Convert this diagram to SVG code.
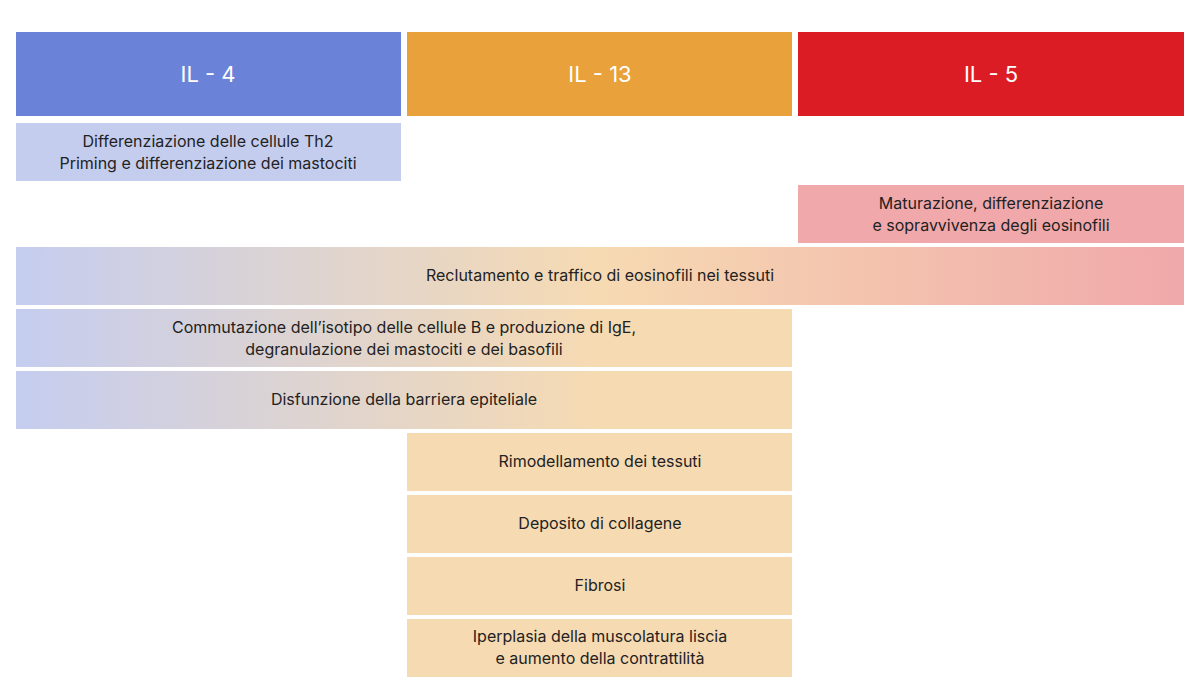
<svg xmlns="http://www.w3.org/2000/svg" width="1200" height="698" viewBox="0 0 1200 698">
<style>
.h{font-family:Inter,"Noto Sans",sans-serif;font-size:22px;fill:#fff;text-anchor:middle}
.t{font-family:Inter,"Noto Sans",sans-serif;font-size:16px;fill:#222;text-anchor:middle}
</style>
<defs>
<linearGradient id="g3" x1="0" x2="1" y1="0" y2="0"><stop offset="0" stop-color="#c5cdef"/><stop offset="0.5" stop-color="#f6dab2"/><stop offset="1" stop-color="#f0a8aa"/></linearGradient>
<linearGradient id="g2" x1="0" x2="1" y1="0" y2="0"><stop offset="0" stop-color="#c5cdef"/><stop offset="0.75" stop-color="#f6dab2"/><stop offset="1" stop-color="#f6dab2"/></linearGradient>
</defs>
<rect width="1200" height="698" fill="#fff"/>
<g id="il4"><rect x="16" y="32" width="385" height="84" fill="#6a82d8"/><text class="h" x="208" y="82">IL - 4</text></g>
<g id="il13"><rect x="407" y="32" width="385" height="84" fill="#e9a13c"/><text class="h" x="600" y="82">IL - 13</text></g>
<g id="il5"><rect x="798" y="32" width="386" height="84" fill="#dc1c25"/><text class="h" x="991" y="82">IL - 5</text></g>
<g id="r1"><rect x="16" y="123" width="385" height="58" fill="#c5cdef"/><text class="t" x="208" y="147">Differenziazione delle cellule Th2</text><text class="t" x="208" y="169">Priming e differenziazione dei mastociti</text></g>
<g id="r2"><rect x="798" y="185" width="386" height="58" fill="#f0a8aa"/><text class="t" x="991" y="209">Maturazione, differenziazione</text><text class="t" x="991" y="231">e sopravvivenza degli eosinofili</text></g>
<g id="r3"><rect x="16" y="247" width="1168" height="58" fill="url(#g3)"/><text class="t" x="600" y="281">Reclutamento e traffico di eosinofili nei tessuti</text></g>
<g id="r4"><rect x="16" y="309" width="776" height="58" fill="url(#g2)"/><text class="t" x="404" y="333">Commutazione dell’isotipo delle cellule B e produzione di IgE,</text><text class="t" x="404" y="355">degranulazione dei mastociti e dei basofili</text></g>
<g id="r5"><rect x="16" y="371" width="776" height="58" fill="url(#g2)"/><text class="t" x="404" y="405">Disfunzione della barriera epiteliale</text></g>
<g id="r6"><rect x="407" y="433" width="385" height="58" fill="#f6dab2"/><text class="t" x="600" y="467">Rimodellamento dei tessuti</text></g>
<g id="r7"><rect x="407" y="495" width="385" height="58" fill="#f6dab2"/><text class="t" x="600" y="529">Deposito di collagene</text></g>
<g id="r8"><rect x="407" y="557" width="385" height="58" fill="#f6dab2"/><text class="t" x="600" y="591">Fibrosi</text></g>
<g id="r9"><rect x="407" y="619" width="385" height="58" fill="#f6dab2"/><text class="t" x="600" y="642">Iperplasia della muscolatura liscia</text><text class="t" x="600" y="664">e aumento della contrattilità</text></g>
<g id="connectors"/>
</svg>
